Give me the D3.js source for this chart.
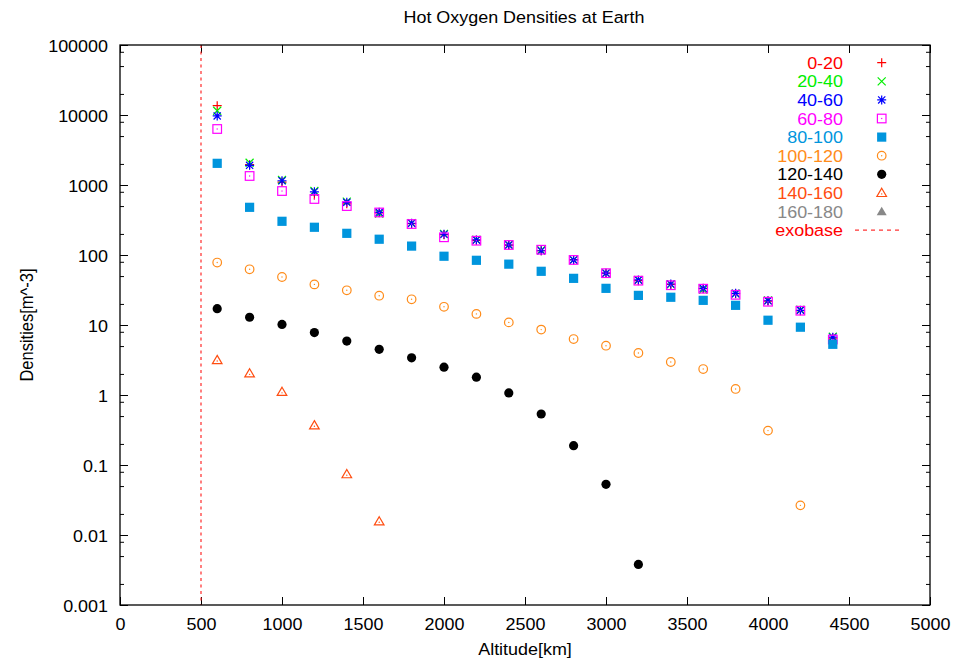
<!DOCTYPE html>
<html>
<head>
<meta charset="utf-8">
<script src="https://cdn.jsdelivr.net/npm/d3@7"></script>
<style>
  body { margin: 0; background: #fff; }
  svg { display: block; }
  text { font-family: "Liberation Sans", Arial, Helvetica, sans-serif; fill: #000; }
</style>
</head>
<body>
<svg id="chart" width="958" height="663"></svg>
<script>
// Altitude grid shared by every energy band [km]
const altitudes = [600, 800, 1000, 1200, 1400, 1600, 1800, 2000, 2200, 2400,
                   2600, 2800, 3000, 3200, 3400, 3600, 3800, 4000, 4200, 4400];

// Hot oxygen densities per energy band [m^-3]
const band0_20   = [13600, 1950, 1100, 720, 540, 400, 280, 195, 162, 138,
                    115, 86, 55, 43, 38, 33, 28, 22, 16, 6.5];
const band20_40  = [11500, 2080, 1180, 820, 580, 390, 285, 200, 165, 140,
                    117, 85, 55, 44, 38, 32, 28, 22.5, 16.5, 6.8];
const band40_60  = [9700, 1910, 1150, 800, 566, 407, 284, 198, 164, 139,
                    115, 85, 55, 44, 38.5, 33.4, 28.3, 22.2, 16.2, 6.7];
const band60_80  = [6310, 1345, 820, 631, 500, 405, 277, 179, 160, 139,
                    119, 85, 55, 43, 37, 33, 27, 21.5, 16, 6.2];
const band80_100 = [2040, 480, 303, 249, 204, 168, 134, 96, 84, 74,
                    58.5, 46.4, 33.4, 26.5, 24.9, 22.5, 19.1, 11.7, 9.3, 5.3];
const band100_120 = [78, 62.5, 48.5, 38, 31.3, 26.2, 23.3, 18.2, 14.4, 10.9,
                     8.6, 6.3, 5.06, 3.98, 2.96, 2.35, 1.22, 0.31, 0.0265];
const band120_140 = [17.1, 12.9, 10.2, 7.8, 5.9, 4.5, 3.4, 2.5, 1.8, 1.07,
                     0.535, 0.189, 0.053, 0.0038];
const band140_160 = [3.16, 2.04, 1.11, 0.37, 0.074, 0.0157];
const band160_180 = [];

const bandNames = ["0-20", "20-40", "40-60", "60-80", "80-100",
                   "100-120", "120-140", "140-160", "160-180"];
const bandValues = [band0_20, band20_40, band40_60, band60_80, band80_100,
                    band100_120, band120_140, band140_160, band160_180];

const exobaseAltitude = 500;

// Axis ticks
const xTickValues = [0, 500, 1000, 1500, 2000, 2500, 3000, 3500, 4000, 4500, 5000];
const yTickValues = [0.001, 0.01, 0.1, 1, 10, 100, 1000, 10000, 100000];
const yTickLabels = ["0.001", "0.01", "0.1", "1", "10", "100", "1000", "10000", "100000"];
const yMinorSteps = [2, 5, 8];

// Look of each band
const bandStyle = [
  { color: "#ff0000", symbol: "plus" },
  { color: "#00ee00", symbol: "cross" },
  { color: "#0000ff", symbol: "star" },
  { color: "#ff00ff", symbol: "boxOpen" },
  { color: "#0095dd", symbol: "boxFilled" },
  { color: "#ff8c1a", symbol: "circleOpen" },
  { color: "#000000", symbol: "circleFilled" },
  { color: "#ff4d10", symbol: "triOpen" },
  { color: "#888888", symbol: "triFilled" }
];

const W = 958, H = 663;
const M = { left: 120, right: 930, top: 45, bottom: 605 };
const SX = 1.087;      // horizontal stretch of the lettering
const FS = 16.5;

const svg = d3.select("#chart");

const x = d3.scaleLinear().domain([0, 5000]).range([M.left, M.right]);
const y = d3.scaleLog().domain([0.001, 100000]).range([M.bottom, M.top]);

// ---- axes -------------------------------------------------------------
const minorY = [];
yTickValues.slice(0, -1).forEach(d => yMinorSteps.forEach(s => minorY.push(d * s)));

function styleTicks(g) {
  g.select(".domain").remove();
  g.selectAll(".tick line").attr("stroke", "#000").attr("stroke-width", 1);
}

const gxB = svg.append("g").attr("transform", `translate(0,${M.bottom})`)
  .call(d3.axisBottom(x).tickValues(xTickValues).tickSizeInner(-8).tickSizeOuter(0)
        .tickFormat(d3.format("d")))
  .call(styleTicks);
gxB.selectAll(".tick text")
  .attr("y", 0).attr("dy", null)
  .attr("font-size", FS)
  .attr("transform", `translate(0,25) scale(${SX},1)`);

svg.append("g").attr("transform", `translate(0,${M.top})`)
  .call(d3.axisTop(x).tickValues(xTickValues).tickSizeInner(-8).tickSizeOuter(0).tickFormat(""))
  .call(styleTicks)
  .selectAll(".tick text").remove();

const gyL = svg.append("g").attr("transform", `translate(${M.left},0)`)
  .call(d3.axisLeft(y).tickValues(yTickValues).tickSizeInner(-8).tickSizeOuter(0)
        .tickFormat((d, i) => yTickLabels[i]))
  .call(styleTicks);
gyL.selectAll(".tick text")
  .attr("x", 0).attr("dy", null)
  .attr("font-size", FS)
  .attr("text-anchor", "end")
  .attr("transform", `translate(-12,6.5) scale(${SX},1)`);

svg.append("g").attr("transform", `translate(${M.left},0)`)
  .call(d3.axisLeft(y).tickValues(minorY).tickSizeInner(-4).tickSizeOuter(0).tickFormat(""))
  .call(styleTicks);

svg.append("g").attr("transform", `translate(${M.right},0)`)
  .call(d3.axisRight(y).tickValues(yTickValues).tickSizeInner(-8).tickSizeOuter(0).tickFormat(""))
  .call(styleTicks);
svg.append("g").attr("transform", `translate(${M.right},0)`)
  .call(d3.axisRight(y).tickValues(minorY).tickSizeInner(-4).tickSizeOuter(0).tickFormat(""))
  .call(styleTicks);

// Exobase marker
svg.append("line")
  .attr("x1", x(exobaseAltitude)).attr("x2", x(exobaseAltitude))
  .attr("y1", M.top).attr("y2", M.bottom)
  .attr("stroke", "#ff2a2a").attr("stroke-width", 1.2)
  .attr("stroke-dasharray", "3,3.5");

// ---- markers ------------------------------------------------------------
function drawSymbol(g, symbol, color) {
  const s = 4.5;
  switch (symbol) {
    case "plus":
      g.append("path").attr("d", `M${-s},0H${s}M0,${-s}V${s}`)
        .attr("stroke", color).attr("stroke-width", 1.2).attr("fill", "none");
      break;
    case "cross":
      g.append("path").attr("d", `M-4,-4L4,4M-4,4L4,-4`)
        .attr("stroke", color).attr("stroke-width", 1.2).attr("fill", "none");
      break;
    case "star":
      g.append("path").attr("d", `M${-s},0H${s}M0,${-s}V${s}M-3.6,-3.6L3.6,3.6M-3.6,3.6L3.6,-3.6`)
        .attr("stroke", color).attr("stroke-width", 1.2).attr("fill", "none");
      break;
    case "boxOpen":
      g.append("rect").attr("x", -4.3).attr("y", -4.3).attr("width", 8.6).attr("height", 8.6)
        .attr("stroke", color).attr("stroke-width", 1.2).attr("fill", "none");
      g.append("rect").attr("x", -0.6).attr("y", -0.6).attr("width", 1.2).attr("height", 1.2)
        .attr("fill", color);
      break;
    case "boxFilled":
      g.append("rect").attr("x", -4.6).attr("y", -4.6).attr("width", 9.2).attr("height", 9.2)
        .attr("fill", color);
      break;
    case "circleOpen":
      g.append("circle").attr("r", 4.3)
        .attr("stroke", color).attr("stroke-width", 1.2).attr("fill", "none");
      g.append("circle").attr("r", 0.7).attr("fill", color);
      break;
    case "circleFilled":
      g.append("circle").attr("r", 4.6).attr("fill", color);
      break;
    case "triOpen":
      g.append("path").attr("d", "M0,-4.6L4.8,3.6H-4.8Z")
        .attr("stroke", color).attr("stroke-width", 1.2).attr("fill", "none");
      g.append("circle").attr("cy", 1).attr("r", 0.7).attr("fill", color);
      break;
    case "triFilled":
      g.append("path").attr("d", "M0,-4.8L5,3.8H-5Z").attr("fill", color);
      break;
  }
}

const plot = svg.append("g");
bandValues.forEach((vals, k) => {
  const st = bandStyle[k];
  const pts = vals.map((v, i) => ({ alt: altitudes[i], dens: v }));
  plot.append("g").selectAll("g").data(pts).join("g")
    .attr("transform", d => `translate(${x(d.alt)},${y(d.dens)})`)
    .each(function () { drawSymbol(d3.select(this), st.symbol, st.color); });
});

// ---- frame ----------------------------------------------------------------
svg.append("rect")
  .attr("x", M.left).attr("y", M.top)
  .attr("width", M.right - M.left).attr("height", M.bottom - M.top)
  .attr("fill", "none").attr("stroke", "#000").attr("stroke-width", 1.3);

// ---- legend ---------------------------------------------------------------
const legend = svg.append("g");
const legendRowY = i => 62.7 + i * 18.6;
const legendTextX = 843, legendSymX = 881.7;

bandNames.forEach((name, i) => {
  legend.append("text")
    .attr("font-size", FS).attr("text-anchor", "end")
    .attr("fill", bandStyle[i].color).style("fill", bandStyle[i].color)
    .attr("transform", `translate(${legendTextX},${legendRowY(i) + 6}) scale(${SX},1)`)
    .text(name);
  const g = legend.append("g").attr("transform", `translate(${legendSymX},${legendRowY(i)})`);
  drawSymbol(g, bandStyle[i].symbol, bandStyle[i].color);
});
const exoRow = bandNames.length;
legend.append("text")
  .attr("font-size", FS).attr("text-anchor", "end")
  .style("fill", "#ff0000")
  .attr("transform", `translate(${legendTextX},${legendRowY(exoRow) + 6}) scale(${SX},1)`)
  .text("exobase");
legend.append("line")
  .attr("x1", 855).attr("x2", 903)
  .attr("y1", legendRowY(exoRow)).attr("y2", legendRowY(exoRow))
  .attr("stroke", "#ff0000").attr("stroke-width", 1)
  .attr("stroke-dasharray", "4,4");

// ---- titles ---------------------------------------------------------------
svg.append("text")
  .attr("font-size", FS).attr("text-anchor", "middle")
  .attr("transform", `translate(524,23) scale(${SX},1)`)
  .text("Hot Oxygen Densities at Earth");

svg.append("text")
  .attr("font-size", FS).attr("text-anchor", "middle")
  .attr("transform", `translate(525,655) scale(${SX},1)`)
  .text("Altitude[km]");

svg.append("text")
  .attr("font-size", FS).attr("text-anchor", "middle")
  .attr("transform", `translate(33,325) rotate(-90) scale(1,${SX})`)
  .text("Densities[m^-3]");
</script>
</body>
</html>
